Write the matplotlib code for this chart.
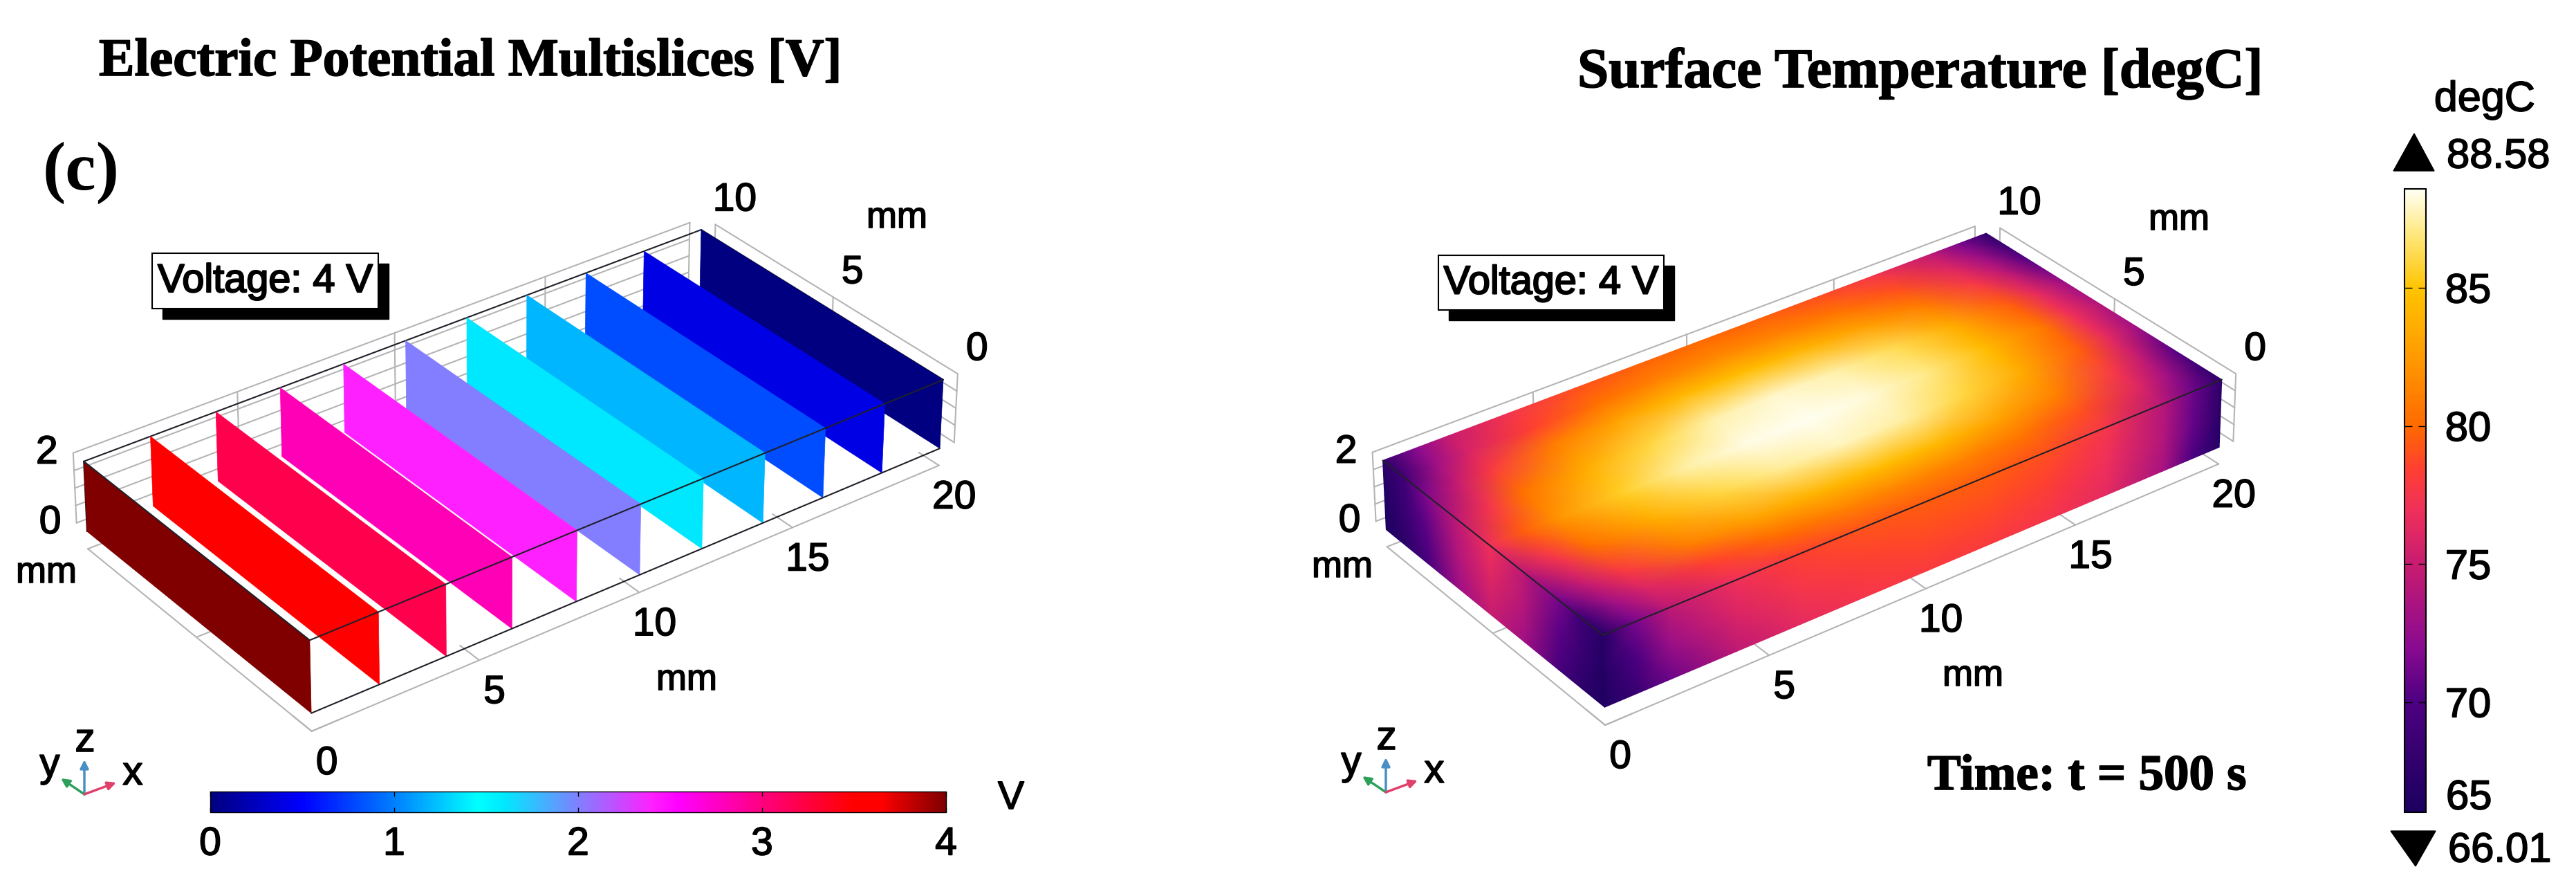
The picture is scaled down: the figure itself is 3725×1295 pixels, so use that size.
# -*- coding: utf-8 -*-
# Electric potential slices and surface temperature of a 20 x 10 x 2 mm block
import numpy as np
import matplotlib
matplotlib.use("Agg")
import matplotlib.pyplot as plt
import matplotlib.patheffects as pe
from matplotlib.cm import ScalarMappable
from matplotlib.colors import LinearSegmentedColormap, Normalize

plt.rcParams['font.family'] = ['Liberation Sans', 'DejaVu Sans']
SERIF = ['Liberation Serif', 'DejaVu Serif']
W, H = 3725, 1295

# -------------------- data --------------------
x_ticks = [0, 5, 10, 15, 20]
y_ticks = [0, 5, 10]
z_ticks = [0, 2]
z_grid = [0, 0.5, 1, 1.5, 2]

slice_x = [20, 18, 16, 14, 12, 10, 8, 6, 4, 2, 0]
slice_v = [0, 0.4, 0.8, 1.2, 1.6, 2.0, 2.4, 2.8, 3.2, 3.6, 4.0]

v_ticks = [0, 1, 2, 3, 4]
t_ticks = [70, 75, 80, 85]
t_min, t_max = 66.01, 88.58

v_levels = [0, 0.5, 1.0, 1.45, 1.6, 2.0, 2.4, 2.55, 3.0, 3.5, 3.65, 4.0]
v_colors = ['#000080', '#0000ff', '#0080ff', '#00ffff', '#00e8ff', '#8080ff',
            '#ff20ff', '#ff00ff', '#ff0080', '#ff0000', '#ff0000', '#800000']
t_levels = [66.01, 68, 70, 72, 75, 77, 78.5, 80, 82.5, 85, 87, 88.58]
t_colors = ['#1c0060', '#34006e', '#4e0082', '#8a0a90', '#c81c70', '#f0305a',
            '#ff4030', '#ff6a00', '#ff9a00', '#ffc400', '#ffe880', '#fffff2']

# temperature (degC)
tx = [0, 1, 2, 4, 6, 8, 10, 12, 14, 16, 18, 19, 20]
ty = [0, 1, 2, 3.5, 5, 6.5, 8, 9, 10]
tz = [0, 1, 2]
t_top = [
    [67.0, 71.5, 74.5, 77.0, 78.5, 79.2, 79.5, 79.5, 79.0, 77.5, 74.0, 71.0, 67.5],
    [69.0, 73.0, 75.8, 78.5, 80.2, 81.2, 81.5, 81.3, 80.5, 79.0, 76.0, 73.0, 69.0],
    [71.5, 75.0, 77.8, 81.0, 83.0, 84.0, 84.5, 84.2, 83.0, 81.0, 77.5, 74.5, 70.5],
    [74.5, 77.5, 80.3, 83.7, 86.0, 87.3, 87.8, 87.5, 86.0, 83.5, 79.5, 76.5, 73.0],
    [77.0, 79.5, 82.0, 85.5, 87.5, 88.4, 88.5, 88.2, 87.0, 84.5, 80.5, 77.0, 74.0],
    [74.5, 77.5, 80.3, 83.7, 86.0, 87.6, 88.0, 87.6, 86.3, 83.7, 79.5, 76.5, 73.0],
    [71.5, 75.0, 77.8, 81.0, 83.0, 84.2, 84.5, 84.0, 82.8, 80.8, 77.5, 74.5, 70.5],
    [69.0, 73.0, 75.8, 78.5, 80.3, 81.3, 81.7, 81.3, 80.5, 79.0, 76.0, 73.0, 69.0],
    [67.5, 72.0, 75.0, 77.5, 79.0, 79.7, 80.0, 79.7, 79.0, 77.5, 74.5, 71.5, 67.5],
]
t_front = [
    [66.5, 68.5, 71.0, 74.5, 76.5, 77.5, 78.0, 78.0, 77.5, 76.5, 73.5, 70.0, 66.8],
    [66.8, 70.0, 72.8, 75.8, 77.5, 78.3, 78.8, 78.8, 78.3, 77.0, 74.0, 70.8, 67.2],
    [67.0, 71.5, 74.5, 77.0, 78.5, 79.2, 79.5, 79.5, 79.0, 77.5, 74.0, 71.0, 67.5],
]
t_left = [
    [66.2, 67.5, 69.5, 73.0, 75.0, 73.0, 69.5, 67.5, 66.2],
    [66.5, 68.5, 70.5, 74.0, 76.0, 74.0, 70.5, 68.5, 66.5],
    [67.0, 69.0, 71.5, 74.5, 77.0, 74.5, 71.5, 69.0, 67.5],
]

# box corners: world (x, y, z) and where they sit in the picture
corners = [(0, 0, 0), (20, 0, 0), (0, 10, 0), (0, 0, 2), (20, 0, 2), (0, 10, 2), (20, 10, 2)]
left_pix = [(450, 1031), (1359, 648), (126, 768), (448, 925), (1364, 549), (121, 667), (1014, 332)]
right_pix = [(2321, 1022), (3209, 646), (2004, 766), (2317, 918), (3213, 549), (2000, 665), (2872, 337)]

GREY = '#b4b4b4'
EDGE = '#20202a'
HEAVY = [pe.withStroke(linewidth=1.2, foreground='black')]

v_cmap = LinearSegmentedColormap.from_list('wave', [(l / 4, c) for l, c in zip(v_levels, v_colors)])
v_norm = Normalize(0, 4)
t_cmap = LinearSegmentedColormap.from_list(
    'heat', [((l - t_min) / (t_max - t_min), c) for l, c in zip(t_levels, t_colors)])
t_norm = Normalize(t_min, t_max)


# -------------------- projection --------------------
def fit_camera(world, pix):
    """3x4 projective camera from point pairs"""
    A, b = [], []
    for (X, Y, Z), (u, v) in zip(world, pix):
        A.append([X, Y, Z, 1, 0, 0, 0, 0, -u*X, -u*Y, -u*Z])
        A.append([0, 0, 0, 0, X, Y, Z, 1, -v*X, -v*Y, -v*Z])
        b += [u, v]
    p = np.linalg.lstsq(np.array(A, float), np.array(b, float), rcond=None)[0]
    return np.append(p, 1.0).reshape(3, 4)


def project(cam, x, y, z):
    x, y, z = np.broadcast_arrays(np.asarray(x, float), np.asarray(y, float), np.asarray(z, float))
    w = cam[2, 0]*x + cam[2, 1]*y + cam[2, 2]*z + cam[2, 3]
    u = (cam[0, 0]*x + cam[0, 1]*y + cam[0, 2]*z + cam[0, 3]) / w
    v = (cam[1, 0]*x + cam[1, 1]*y + cam[1, 2]*z + cam[1, 3]) / w
    return u, v


def label(ax, x, y, s, size=41, ha='center', zorder=9):
    ax.text(x, y, s, fontsize=size, ha=ha, va='center', path_effects=HEAVY, zorder=zorder)


def line3d(ax, cam, a, b, color=GREY, lw=1.5, zorder=1):
    u, v = project(cam, [a[0], b[0]], [a[1], b[1]], [a[2], b[2]])
    ax.plot(u, v, color=color, lw=lw, zorder=zorder, solid_capstyle='round')


def draw_frame(ax, cam):
    """grey walls, floor and tick labels"""
    for z in z_grid:
        line3d(ax, cam, (0, 10.5, z), (20, 10.5, z))
        line3d(ax, cam, (20.5, 0, z), (20.5, 10, z))
    for x in x_ticks:
        line3d(ax, cam, (x, 10.5, 0), (x, 10.5, 2))
        line3d(ax, cam, (x, 0, -0.5), (x, 0.8, -0.5))
    for y in y_ticks:
        line3d(ax, cam, (20.5, y, 0), (20.5, y, 2))
        line3d(ax, cam, (0, y, -0.5), (0.8, y, -0.5))
    line3d(ax, cam, (0, 0, -0.5), (20, 0, -0.5))
    line3d(ax, cam, (0, 0, -0.5), (0, 10, -0.5))

    for x in x_ticks:
        u, v = project(cam, x, 0, -0.5)
        label(ax, u + 22, v + 47, str(x))
    for y in y_ticks:
        u, v = project(cam, 20.5, y, 2)
        label(ax, u + 28, v - 35, str(y))
    for z in z_ticks:
        u, v = project(cam, 0, 10.5, z)
        label(ax, u - 38, v, str(z))


def draw_triad(ax, ox, oy):
    for dx, dy, col in [(0, -50, '#4a8fc4'), (-34, -23, '#2ca05a'), (46, -17, '#e0406a')]:
        ax.annotate('', xy=(ox + dx, oy + dy), xytext=(ox, oy), zorder=5,
                    arrowprops=dict(arrowstyle='-|>', color=col, lw=2.5, mutation_scale=18,
                                    shrinkA=0, shrinkB=0))
    label(ax, ox - 50, oy - 41, 'y', size=42)
    label(ax, ox + 1, oy - 77, 'z', size=42)
    label(ax, ox + 70, oy - 29, 'x', size=42)


def voltage_box(ax, x0, y0, x1, y1):
    ax.fill([x0 + 15, x1 + 15, x1 + 15, x0 + 15], [y0 + 15, y0 + 15, y1 + 15, y1 + 15],
            color='black', zorder=6)
    ax.fill([x0, x1, x1, x0], [y0, y0, y1, y1], facecolor='white', edgecolor='black',
            lw=1.5, zorder=7)
    ax.text((x0 + x1) / 2, (y0 + y1) / 2 + 1, 'Voltage: 4 V', fontsize=41.5,
            path_effects=[pe.withStroke(linewidth=1.6, foreground='black')],
            ha='center', va='center', zorder=8)


# -------------------- figure --------------------
fig = plt.figure(figsize=(W / 100, H / 100), dpi=100)
ax = fig.add_axes([0, 0, 1, 1])
ax.set_xlim(0, W)
ax.set_ylim(H, 0)
ax.axis('off')

# left panel: potential slices
cam_l = fit_camera(corners, left_pix)
draw_frame(ax, cam_l)
for a, b in [((0, 10, 2), (20, 10, 2)), ((20, 0, 2), (20, 10, 2)), ((0, 10, 2), (0, 10, 0))]:
    line3d(ax, cam_l, a, b, color=EDGE, zorder=2)
for x, val in zip(slice_x, slice_v):
    u, v = project(cam_l, [x, x, x, x], [0, 10, 10, 0], [0, 0, 2, 2])
    ax.fill(u, v, color=v_cmap(v_norm(val)), lw=0.5, zorder=3)
line3d(ax, cam_l, (0, 0, 2), (20, 0, 2), color=EDGE, zorder=4)
line3d(ax, cam_l, (0, 0, 0), (20, 0, 0), color=EDGE, zorder=4)
line3d(ax, cam_l, (0, 0, 2), (0, 10, 2), color=EDGE, zorder=4)

# right panel: temperature on the three visible faces
cam_r = fit_camera(corners, right_pix)
draw_frame(ax, cam_r)
X, Y = np.meshgrid(tx, ty)
u, v = project(cam_r, X, Y, 2)
ax.pcolormesh(u, v, np.array(t_top), shading='gouraud', cmap=t_cmap, norm=t_norm, zorder=3)
X, Z = np.meshgrid(tx, tz)
u, v = project(cam_r, X, 0, Z)
ax.pcolormesh(u, v, np.array(t_front), shading='gouraud', cmap=t_cmap, norm=t_norm, zorder=3)
Y, Z = np.meshgrid(ty, tz)
u, v = project(cam_r, 0, Y, Z)
ax.pcolormesh(u, v, np.array(t_left), shading='gouraud', cmap=t_cmap, norm=t_norm, zorder=3)
line3d(ax, cam_r, (0, 0, 2), (20, 0, 2), color=EDGE, zorder=4)
line3d(ax, cam_r, (0, 0, 2), (0, 10, 2), color=EDGE, zorder=4)

# texts
for x, y in [(1297, 315), (993, 983), (67, 828), (3151, 318), (2853, 977), (1941, 820)]:
    label(ax, x, y, 'mm', size=38)
ax.text(143, 109, 'Electric Potential Multislices [V]', family=SERIF, fontweight='bold',
        fontsize=55.6, ha='left', va='baseline', path_effects=HEAVY)
ax.text(2281, 126, 'Surface Temperature [degC]', family=SERIF, fontweight='bold',
        fontsize=58.5, ha='left', va='baseline', path_effects=HEAVY)
ax.text(62, 274, '(c)', family=SERIF, fontweight='bold', fontsize=72, ha='left', va='baseline')
ax.text(2787, 1141, 'Time: t = 500 s', family=SERIF, fontweight='bold', fontsize=52.5,
        ha='left', va='baseline', path_effects=HEAVY)
voltage_box(ax, 220, 366, 547, 446)
voltage_box(ax, 2080, 369, 2406, 448)
draw_triad(ax, 122, 1148)
draw_triad(ax, 2004, 1145)

# potential colour bar
cax = fig.add_axes([304 / W, 1 - 1174 / H, (1368 - 304) / W, 30 / H])
cb = fig.colorbar(ScalarMappable(norm=v_norm, cmap=v_cmap), cax=cax, orientation='horizontal',
                  ticks=v_ticks)
cax.tick_params(labelsize=41, direction='in', length=5, width=1, pad=14, bottom=True, top=True)
for t in cax.get_xticklabels():
    t.set_path_effects(HEAVY)
cb.outline.set_linewidth(1)
label(ax, 1462, 1154, 'V')

# temperature colour bar
cax2 = fig.add_axes([3477 / W, 1 - 1174 / H, 31 / W, (1174 - 273) / H])
cb2 = fig.colorbar(ScalarMappable(norm=t_norm, cmap=t_cmap), cax=cax2, ticks=t_ticks)
cax2.tick_params(labelsize=43, direction='in', length=8, width=1, pad=20, left=True, right=True)
for t in cax2.get_yticklabels():
    t.set_path_effects(HEAVY)
cb2.outline.set_linewidth(1.5)
label(ax, 3593, 145, 'degC', size=44)
label(ax, 3538, 227, '%.2f' % t_max, size=43, ha='left')
label(ax, 3537, 1154, '65', size=43, ha='left')
label(ax, 3540, 1230, '%.2f' % t_min, size=43, ha='left')
ax.fill([3461, 3520, 3491], [247, 247, 193], color='black')
ax.fill([3457, 3522, 3493], [1201, 1201, 1252], color='black')

fig.savefig('out.png', dpi=100)
